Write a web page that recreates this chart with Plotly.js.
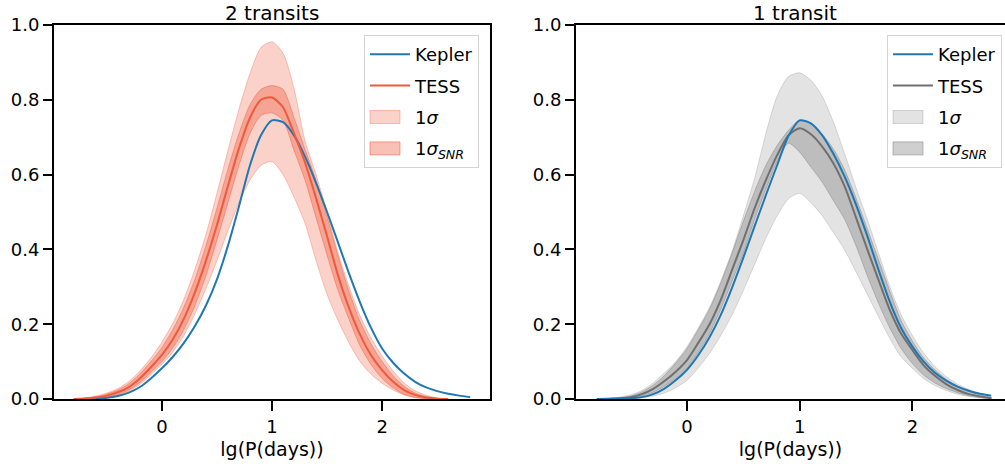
<!DOCTYPE html>
<html><head><meta charset="utf-8">
<script src="https://cdn.plot.ly/plotly-3.0.1.min.js"></script>
<style>body{margin:0;padding:0;background:#fff}#chart{width:1005px;height:468px}</style>
</head><body><div id="chart"></div>
<script>
// ---------- data: left panel ("2 transits") ----------
const xKeplerL = [-0.8,-0.7,-0.6,-0.5,-0.4,-0.3,-0.2,-0.1,0,0.1,0.2,0.3,0.4,0.5,0.6,0.7,0.8,0.9,1.0,1.1,1.2,1.3,1.4,1.5,1.6,1.7,1.8,1.9,2.0,2.1,2.2,2.3,2.4,2.5,2.6,2.7,2.8];
const keplerL  = [0,0.0005,0.001,0.003,0.008,0.017,0.032,0.055,0.082,0.113,0.15,0.195,0.25,0.32,0.41,0.515,0.625,0.705,0.745,0.74,0.705,0.648,0.578,0.5,0.418,0.335,0.258,0.19,0.135,0.097,0.068,0.046,0.031,0.021,0.014,0.009,0.005];
const xTessL   = [-0.8,-0.7,-0.6,-0.5,-0.4,-0.3,-0.2,-0.1,0,0.1,0.2,0.3,0.4,0.5,0.6,0.7,0.8,0.9,1.0,1.1,1.2,1.3,1.4,1.5,1.6,1.7,1.8,1.9,2.0,2.1,2.2,2.3,2.4,2.5,2.6];
const tessL    = [0,0.001,0.004,0.009,0.018,0.032,0.055,0.085,0.118,0.16,0.215,0.285,0.37,0.465,0.57,0.67,0.752,0.80,0.806,0.78,0.71,0.632,0.537,0.435,0.33,0.243,0.172,0.117,0.077,0.046,0.024,0.011,0.004,0.001,0];
const snrHiL   = [0,0.002,0.006,0.013,0.024,0.041,0.067,0.1,0.138,0.186,0.246,0.32,0.41,0.51,0.615,0.71,0.787,0.828,0.838,0.828,0.752,0.667,0.585,0.487,0.382,0.287,0.207,0.147,0.1,0.062,0.034,0.016,0.006,0.002,0];
const snrLoL   = [0,0.0005,0.002,0.005,0.012,0.024,0.044,0.071,0.1,0.137,0.186,0.25,0.33,0.425,0.525,0.625,0.71,0.758,0.765,0.745,0.665,0.585,0.485,0.385,0.29,0.213,0.142,0.092,0.055,0.03,0.012,0.004,0.001,0,0];
const sigHiL   = [0.001,0.003,0.008,0.016,0.028,0.047,0.075,0.11,0.152,0.203,0.267,0.347,0.44,0.55,0.665,0.775,0.87,0.94,0.955,0.925,0.83,0.69,0.6,0.5,0.39,0.3,0.222,0.163,0.115,0.075,0.043,0.022,0.01,0.003,0];
const sigLoL   = [0,0.0005,0.002,0.004,0.01,0.021,0.039,0.065,0.092,0.126,0.17,0.228,0.295,0.37,0.45,0.525,0.585,0.625,0.635,0.6,0.54,0.47,0.37,0.28,0.21,0.15,0.1,0.066,0.042,0.024,0.011,0.004,0.001,0,0];

// ---------- data: right panel ("1 transit") ----------
const xR      = [-0.8,-0.7,-0.6,-0.5,-0.4,-0.3,-0.2,-0.1,0,0.1,0.2,0.3,0.4,0.5,0.6,0.7,0.8,0.9,1.0,1.1,1.2,1.3,1.4,1.5,1.6,1.7,1.8,1.9,2.0,2.1,2.2,2.3,2.4,2.5,2.6,2.7];
const keplerR = [0,0,0.001,0.002,0.005,0.013,0.028,0.05,0.078,0.117,0.165,0.225,0.298,0.378,0.462,0.545,0.625,0.703,0.745,0.737,0.705,0.655,0.594,0.52,0.436,0.345,0.26,0.19,0.14,0.1,0.07,0.049,0.033,0.022,0.014,0.009];
const tessR   = [0,0.001,0.002,0.005,0.013,0.027,0.048,0.073,0.104,0.15,0.2,0.265,0.345,0.425,0.51,0.585,0.652,0.705,0.724,0.708,0.675,0.63,0.568,0.485,0.4,0.318,0.238,0.175,0.131,0.09,0.062,0.04,0.024,0.013,0.007,0.002];
const snrHiR  = [0,0.001,0.003,0.008,0.019,0.037,0.063,0.096,0.135,0.185,0.24,0.31,0.39,0.475,0.555,0.625,0.678,0.718,0.746,0.735,0.708,0.668,0.612,0.537,0.455,0.372,0.288,0.21,0.155,0.11,0.078,0.053,0.035,0.022,0.011,0.004];
const snrLoR  = [0,0,0.001,0.003,0.008,0.018,0.034,0.055,0.082,0.125,0.175,0.24,0.315,0.39,0.48,0.56,0.635,0.684,0.66,0.62,0.58,0.53,0.48,0.41,0.33,0.256,0.19,0.135,0.095,0.064,0.043,0.028,0.017,0.009,0.004,0.001];
const sigHiR  = [0,0.002,0.005,0.011,0.023,0.043,0.07,0.1,0.14,0.19,0.245,0.315,0.395,0.49,0.59,0.71,0.81,0.862,0.872,0.852,0.81,0.74,0.655,0.565,0.48,0.39,0.3,0.225,0.17,0.123,0.087,0.06,0.04,0.026,0.015,0.006];
const sigLoR  = [0,0,0,0.001,0.003,0.008,0.016,0.03,0.05,0.083,0.122,0.17,0.225,0.29,0.36,0.43,0.49,0.535,0.55,0.525,0.49,0.445,0.398,0.34,0.28,0.22,0.162,0.113,0.082,0.055,0.036,0.023,0.013,0.007,0.003,0.001];

// ---------- labels ----------
const panelTitles = ['2 transits', '1 transit'];
const seriesNames = ['Kepler', 'TESS', '1<i>σ</i>', '1<i>σ<sub>SNR</sub></i>'];
const xTickVals = [0, 1, 2];
const yTickVals = [0, 0.2, 0.4, 0.6, 0.8, 1.0];
const xLabel = 'lg(P(days))';

const FONT = 'DejaVu Sans, Liberation Sans, sans-serif';
const KEPLER = '#1f77b4';

function band(x, hi, lo, fill, edge, name, xa, ya, leg, rank) {
  return {
    x: x.concat(x.slice().reverse()),
    y: hi.concat(lo.slice().reverse()),
    type: 'scatter', mode: 'lines', fill: 'toself', fillcolor: fill,
    line: {color: edge, width: 1, shape: 'spline', smoothing: 0.7},
    name: name, xaxis: xa, yaxis: ya, legend: leg, legendrank: rank,
    legendgroup: leg + name, hoverinfo: 'skip'
  };
}
function line(x, y, color, name, xa, ya, leg, rank) {
  return {
    x: x, y: y, type: 'scatter', mode: 'lines',
    line: {color: color, width: 2, shape: 'spline', smoothing: 0.7},
    name: name, xaxis: xa, yaxis: ya, legend: leg, legendrank: rank,
    legendgroup: leg + name
  };
}

const redLight = 'rgba(240,90,60,0.27)';
const redLightEdge = 'rgba(240,90,60,0.32)';
const redDark  = 'rgba(240,90,60,0.38)';
const redDarkEdge  = 'rgba(240,90,60,0.45)';
const redLine  = '#f05a3c';
const grayLight = 'rgba(128,128,128,0.22)';
const grayLightEdge = 'rgba(128,128,128,0.26)';
const grayDark  = 'rgba(128,128,128,0.38)';
const grayDarkEdge  = 'rgba(128,128,128,0.45)';
const grayLine  = '#707070';

const data = [
  band(xTessL, sigHiL, sigLoL, redLight, redLightEdge, seriesNames[2], 'x', 'y', 'legend', 3),
  band(xTessL, snrHiL, snrLoL, redDark, redDarkEdge, seriesNames[3], 'x', 'y', 'legend', 4),
  line(xKeplerL, keplerL, KEPLER, seriesNames[0], 'x', 'y', 'legend', 1),
  line(xTessL, tessL, redLine, seriesNames[1], 'x', 'y', 'legend', 2),

  band(xR, sigHiR, sigLoR, grayLight, grayLightEdge, seriesNames[2], 'x2', 'y2', 'legend2', 3),
  band(xR, snrHiR, snrLoR, grayDark, grayDarkEdge, seriesNames[3], 'x2', 'y2', 'legend2', 4),
  line(xR, tessR, grayLine, seriesNames[1], 'x2', 'y2', 'legend2', 2),
  line(xR, keplerR, KEPLER, seriesNames[0], 'x2', 'y2', 'legend2', 1)
];

function xax(domain, range, mirror, anchor) {
  return {
    domain: domain, range: range, anchor: anchor,
    tickmode: 'array', tickvals: xTickVals, ticktext: xTickVals.map(String),
    ticks: 'outside', ticklen: 10, tickwidth: 2, tickcolor: '#000',
    showline: true, linewidth: 2, linecolor: '#000', mirror: mirror,
    showgrid: false, zeroline: false,
    tickfont: {family: FONT, size: 18, color: '#000'},
    title: {text: xLabel, font: {family: FONT, size: 19, color: '#000'}, standoff: 7},
    fixedrange: true
  };
}
function yax(domain, mirror, anchor) {
  return {
    domain: domain, range: [0, 1], anchor: anchor,
    tickmode: 'array', tickvals: yTickVals, ticktext: yTickVals.map(v => v.toFixed(1)),
    ticks: 'outside', ticklen: 9, tickwidth: 2, tickcolor: '#000',
    showline: true, linewidth: 2, linecolor: '#000', mirror: mirror,
    showgrid: false, zeroline: false,
    tickfont: {family: FONT, size: 18, color: '#000'},
    fixedrange: true
  };
}
const yDom = [1 - 399/468, 1 - 25/468];
function leg(xRight) {
  return {
    x: xRight, xanchor: 'right', y: 1 - 35/468, yanchor: 'top',
    bgcolor: 'rgba(255,255,255,0.85)', bordercolor: '#d4d4d4', borderwidth: 1,
    font: {family: FONT, size: 18, color: '#000'},
    traceorder: 'grouped', tracegroupgap: 5, itemwidth: 40
  };
}

const layout = {
  width: 1005, height: 468, autosize: false,
  margin: {l: 0, r: 0, t: 0, b: 0, pad: 0},
  paper_bgcolor: '#fff', plot_bgcolor: '#fff',
  font: {family: FONT, size: 18, color: '#000'},
  showlegend: true,
  xaxis: xax([54/1005, 490/1005], [-0.98, 2.98], true, 'y'),
  yaxis: yax(yDom, true, 'x'),
  xaxis2: xax([576/1005, 1], [-0.985, 2.822], true, 'y2'),
  yaxis2: yax(yDom, false, 'x2'),
  legend: leg(479/1005),
  legend2: leg(1002/1005),
  annotations: [
    {text: panelTitles[0], x: 272/1005, y: 1 - 12.5/468, xref: 'paper', yref: 'paper',
     xanchor: 'center', yanchor: 'middle', showarrow: false, font: {family: FONT, size: 20, color: '#000'}},
    {text: panelTitles[1], x: 795/1005, y: 1 - 12.5/468, xref: 'paper', yref: 'paper',
     xanchor: 'center', yanchor: 'middle', showarrow: false, font: {family: FONT, size: 20, color: '#000'}}
  ]
};

const gd = document.getElementById('chart');
Plotly.newPlot(gd, data, layout, {staticPlot: true, displayModeBar: false}).then(() => {
  // matplotlib-like rectangular patches for the band entries of both legends
  gd.querySelectorAll('.infolayer g.traces').forEach(g => {
    const f = g.querySelector('.legendfill path');
    if (f) {
      f.setAttribute('d', 'M5,-6.5h30v13h-30z');
      const l = g.querySelector('.legendlines path');
      if (l) l.style.display = 'none';
      const op = parseFloat(f.style.fillOpacity || '1');
      f.style.stroke = f.style.fill;
      f.style.strokeOpacity = String(Math.min(1, op * 1.35));
      f.style.strokeWidth = '1px';
    }
  });
  // remove Plotly's off-screen text-measuring helpers, which draw nothing
  const tester = document.getElementById('js-plotly-tester');
  if (tester) tester.remove();
  document.querySelectorAll('text').forEach(t => {
    let b = null;
    try { b = t.getBBox(); } catch (e) { b = null; }
    if (!b || (b.width === 0 && b.height === 0)) t.remove();
  });
});
</script></body></html>
